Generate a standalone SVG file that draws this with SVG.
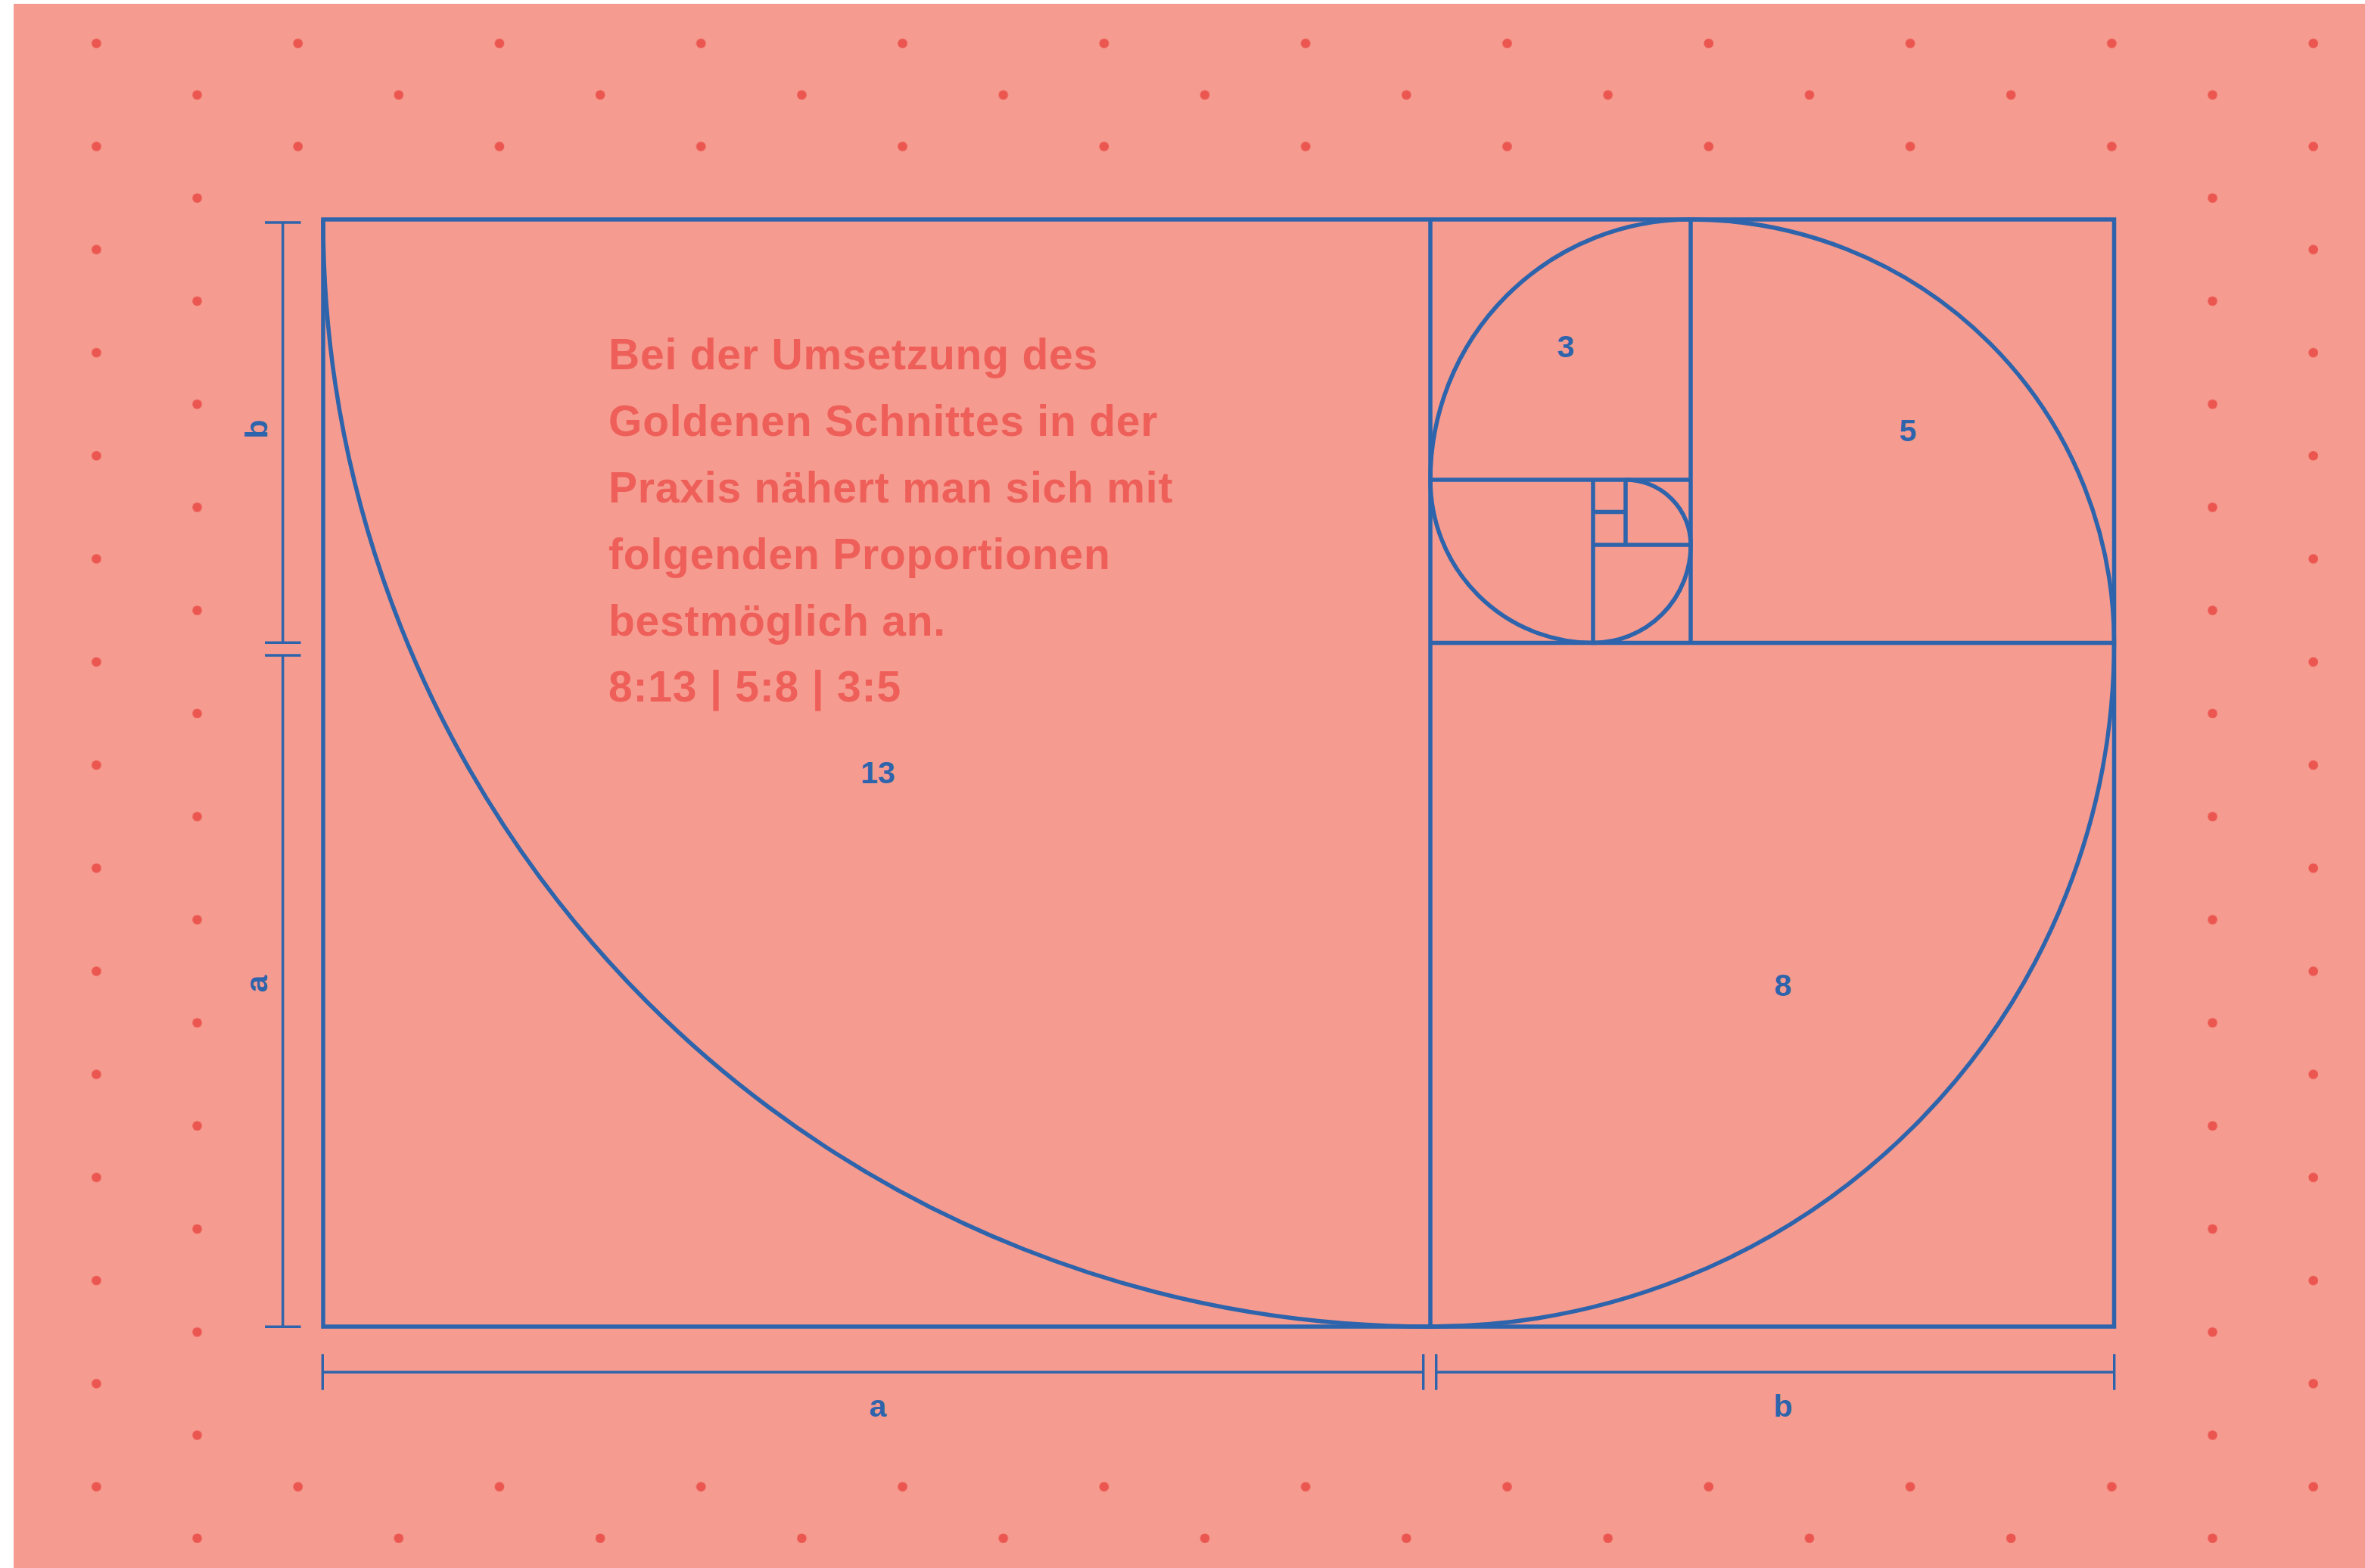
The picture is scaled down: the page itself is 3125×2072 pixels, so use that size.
<svg xmlns="http://www.w3.org/2000/svg" width="3125" height="2072" viewBox="0 0 3125 2072">
  <style>
    .frame { fill: none; stroke: #2D64AC; stroke-width: 5.5; stroke-linejoin: miter; }
    .spiral { fill: none; stroke: #2D64AC; stroke-width: 5.5; }
    .dim { fill: none; stroke: #2D64AC; stroke-width: 3.4; }
    .lbl { font-family: "Liberation Sans", Arial, sans-serif; font-weight: bold; font-size: 41px; fill: #2D64AC; text-anchor: middle; }
    .body { font-family: "Liberation Sans", Arial, sans-serif; font-weight: bold; font-size: 57px; fill: #EF5F5A; letter-spacing: 0.8px; }
  </style>
  <defs>
    <pattern id="dots" patternUnits="userSpaceOnUse" x="60.825" y="23.24" width="266.3" height="136.234">
      <circle cx="66.575" cy="34.06" r="6.3" fill="#EB5650"/>
      <circle cx="199.725" cy="102.177" r="6.3" fill="#EB5650"/>
    </pattern>
  </defs>

  <g id="background">
    <rect x="18" y="5" width="3107" height="2067" fill="#F59B8F"/>
    <rect x="18" y="30" width="3107" height="182" fill="url(#dots)"/>
    <rect x="18" y="1940" width="3107" height="132" fill="url(#dots)"/>
    <rect x="100" y="212" width="185" height="1728" fill="url(#dots)"/>
    <rect x="2900" y="212" width="180" height="1728" fill="url(#dots)"/>
  </g>

  <g id="squares">
    <rect id="outer" class="frame" x="427" y="290" width="2366.5" height="1463"/>
    <line class="frame" x1="1890" y1="290" x2="1890" y2="1753"/>
    <line class="frame" x1="1890" y1="849.5" x2="2793.5" y2="849.5"/>
    <line class="frame" x1="2234" y1="290" x2="2234" y2="849.5"/>
    <line class="frame" x1="1890" y1="634" x2="2234" y2="634"/>
    <line class="frame" x1="2105" y1="634" x2="2105" y2="849.5"/>
    <line class="frame" x1="2105" y1="720" x2="2234" y2="720"/>
    <line class="frame" x1="2148" y1="634" x2="2148" y2="720"/>
    <line class="frame" x1="2105" y1="676.5" x2="2148" y2="676.5"/>
  </g>

  <g id="spiral">
    <path class="spiral" d="M427,290 A1463,1463 0 0 0 1890,1753 A903.5,903.5 0 0 0 2793.5,849.5 A559.5,559.5 0 0 0 2234,290 A344,344 0 0 0 1890,634 A215.5,215.5 0 0 0 2105,849.5 A129,129 0 0 0 2234,720 A86,86 0 0 0 2148,634"/>
  </g>

  <g id="connectors">
    <g id="dim-left-b">
      <line class="dim" x1="373.7" y1="294" x2="373.7" y2="849.3"/>
      <line class="dim" x1="350" y1="294" x2="397.5" y2="294"/>
      <line class="dim" x1="350" y1="849.3" x2="397.5" y2="849.3"/>
    </g>
    <g id="dim-left-a">
      <line class="dim" x1="373.7" y1="866" x2="373.7" y2="1753.3"/>
      <line class="dim" x1="350" y1="866" x2="397.5" y2="866"/>
      <line class="dim" x1="350" y1="1753.3" x2="397.5" y2="1753.3"/>
    </g>
    <g id="dim-bottom-a">
      <line class="dim" x1="426.3" y1="1813.3" x2="1880.7" y2="1813.3"/>
      <line class="dim" x1="426.3" y1="1789.3" x2="426.3" y2="1836.7"/>
      <line class="dim" x1="1880.7" y1="1789.3" x2="1880.7" y2="1836.7"/>
    </g>
    <g id="dim-bottom-b">
      <line class="dim" x1="1897.7" y1="1813.3" x2="2793.7" y2="1813.3"/>
      <line class="dim" x1="1897.7" y1="1789.3" x2="1897.7" y2="1836.7"/>
      <line class="dim" x1="2793.7" y1="1789.3" x2="2793.7" y2="1836.7"/>
    </g>
  </g>

  <g id="labels">
    <text class="lbl" transform="translate(352.5,567) rotate(-90)">b</text>
    <text class="lbl" transform="translate(352.5,1300) rotate(-90)">a</text>
    <text class="lbl" x="1160" y="1872">a</text>
    <text class="lbl" x="2356" y="1872">b</text>
    <text class="lbl" x="2069" y="472">3</text>
    <text class="lbl" x="2521" y="583">5</text>
    <text class="lbl" x="1160" y="1035">13</text>
    <text class="lbl" x="2356" y="1316">8</text>
  </g>

  <g id="text-block">
    <text class="body">
      <tspan x="804" y="488">Bei der Umsetzung des</tspan>
      <tspan x="804" y="576">Goldenen Schnittes in der</tspan>
      <tspan x="804" y="664">Praxis nähert man sich mit</tspan>
      <tspan x="804" y="752">folgenden Proportionen</tspan>
      <tspan x="804" y="839.5">bestmöglich an.</tspan>
      <tspan x="804" y="927">8:13 | 5:8 | 3:5</tspan>
    </text>
  </g>
</svg>
